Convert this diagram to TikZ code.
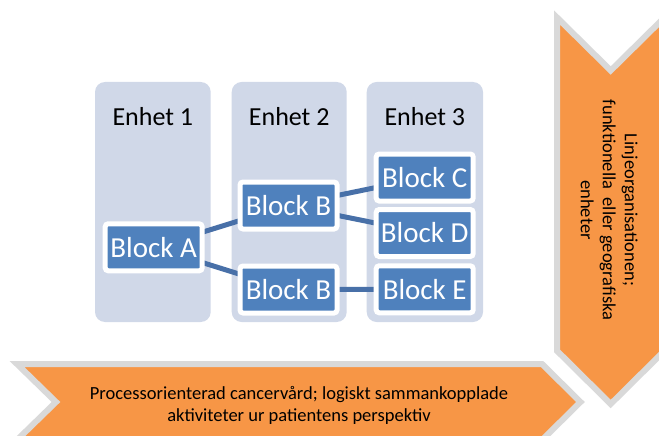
\documentclass[tikz,border=0pt]{standalone}
\usepackage{fontspec}
\setmainfont{Carlito}
\definecolor{colfill}{RGB}{208,216,232}
\definecolor{blockblue}{RGB}{79,129,189}
\definecolor{connblue}{RGB}{72,112,168}
\definecolor{arroworange}{RGB}{247,150,70}
\definecolor{arrowgray}{RGB}{217,217,217}
\pgfdeclarelayer{bg}
\pgfdeclarelayer{conn}
\pgfsetlayers{bg,conn,main}
\tikzset{
  column/.style={fill=colfill, rounded corners=10pt},
  blockbox/.style={fill=blockblue, draw=white, line width=5pt, rounded corners=3pt,
    minimum width=97pt, minimum height=47pt, inner sep=0pt, text=white,
    font=\fontsize{29}{31}\selectfont},
  enhet/.style={font=\fontsize{26}{28}\selectfont},
  conn/.style={draw=connblue, line width=5pt},
  bigarrow/.style={fill=arroworange, draw=arrowgray, line width=6pt, line join=miter},
  arrowtext/.style={font=\fontsize{18.5}{22}\selectfont, align=center}
}
\begin{document}
\begin{tikzpicture}[x=1pt,y=-1pt]
\useasboundingbox (0,0) rectangle (659,436);
\clip (0,0) rectangle (659,436);
\begin{pgfonlayer}{bg}
\fill[white] (0,0) rectangle (659,436);
\path[column] (95,82) rectangle (210.7,322);
\path[column] (231.7,82) rectangle (346.7,322);
\path[column] (366.7,82) rectangle (483,322);
\draw[bigarrow] (557,17.5) -- (610.7,70.5) -- (664.4,17.5) -- (664.4,350.8) -- (610.7,404) -- (557,350.8) -- cycle;
\draw[bigarrow] (17,364) -- (542,364) -- (580.5,402) -- (542,440) -- (17,440) -- (56,402) -- cycle;
\end{pgfonlayer}
\node[enhet] (e1) at (152.8,117) {Enhet 1};
\node[enhet] (e2) at (289.2,117) {Enhet 2};
\node[enhet] (e3) at (424.8,117) {Enhet 3};
\node[blockbox] (A) at (153.7,247.3) {Block A};
\node[blockbox] (B1) at (288.5,205.5) {Block B};
\node[blockbox] (B2) at (288.5,289.5) {Block B};
\node[blockbox] (C) at (424.7,177.5) {Block C};
\node[blockbox] (D) at (424.7,233) {Block D};
\node[blockbox] (E) at (424.7,289.3) {Block E};
\begin{pgfonlayer}{conn}
\draw[conn] (A.center) -- (B1.center);
\draw[conn] (A.center) -- (B2.center);
\draw[conn] (B1.center) -- (C.center);
\draw[conn] (B1.center) -- (D.center);
\draw[conn] (B2.center) -- (E.center);
\end{pgfonlayer}
\node[arrowtext, rotate=-90] (vt) at (609.3,210) {Linjeorganisationen;\\funktionella\ \ eller geografiska\\enheter};
\node[arrowtext] (ht) at (299,405.5) {Processorienterad cancervård; logiskt sammankopplade\\aktiviteter ur patientens perspektiv};
\end{tikzpicture}
\end{document}
